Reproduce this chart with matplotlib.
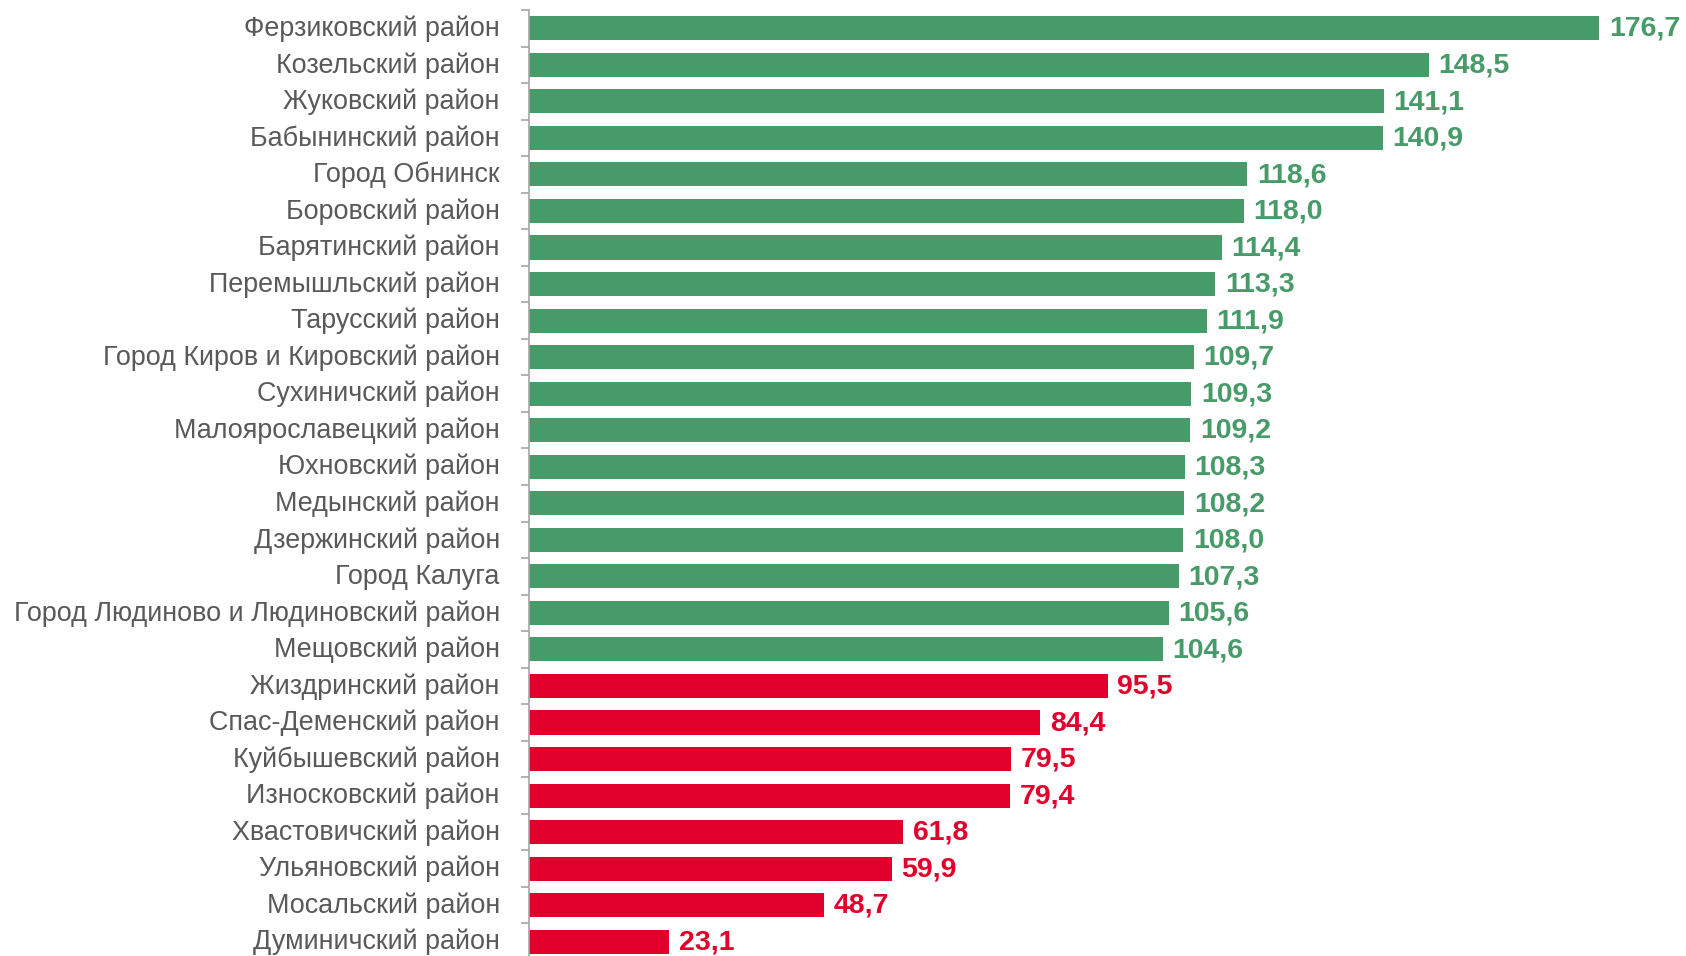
import matplotlib
matplotlib.use("Agg")
import matplotlib.pyplot as plt
import matplotlib.transforms as mtransforms
import numpy as np

plt.rcParams['font.family'] = ['Liberation Sans', 'DejaVu Sans']

districts = [
    'Ферзиковский район', 'Козельский район', 'Жуковский район',
    'Бабынинский район', 'Город Обнинск', 'Боровский район',
    'Барятинский район', 'Перемышльский район', 'Тарусский район',
    'Город Киров и Кировский район', 'Сухиничский район',
    'Малоярославецкий район', 'Юхновский район', 'Медынский район',
    'Дзержинский район', 'Город Калуга',
    'Город Людиново и Людиновский район', 'Мещовский район',
    'Жиздринский район', 'Спас-Деменский район', 'Куйбышевский район',
    'Износковский район', 'Хвастовичский район', 'Ульяновский район',
    'Мосальский район', 'Думиничский район',
]
values = [176.7, 148.5, 141.1, 140.9, 118.6, 118.0, 114.4, 113.3, 111.9,
          109.7, 109.3, 109.2, 108.3, 108.2, 108.0, 107.3, 105.6, 104.6,
          95.5, 84.4, 79.5, 79.4, 61.8, 59.9, 48.7, 23.1]

green = '#469b68'
red = '#e1002c'
colors = [green if v >= 100 else red for v in values]

fig = plt.figure(figsize=(16.86, 9.56), dpi=100)
ax = fig.add_axes([529 / 1686, -4 / 956, 1 - 529 / 1686, 950 / 956])

y = np.arange(len(districts))
ax.barh(y, values, height=0.66, color=colors)

for yi, v, c in zip(y, values, colors):
    ax.text(v + 1.6, yi + 0.02, f'{v:.1f}'.replace('.', ','), va='center',
            ha='left', color=c, fontsize=20.5, fontweight='bold')

ax.set_ylim(len(districts) - 0.5, -0.5)
ax.set_xlim(0, 191)
ax.set_yticks(y)
ax.set_yticklabels(districts, fontsize=19.4, color='#595959')
ax.tick_params(axis='y', which='major', length=0, pad=21)
ax.set_yticks(np.arange(len(districts) + 1) - 0.5, minor=True)
ax.tick_params(axis='y', which='minor', length=6, color='#a6a6a6', width=1.2)
ax.set_xticks([])

# labels sit a touch above bar centres in the original
shift = mtransforms.ScaledTranslation(0, 2.5 / 100, fig.dpi_scale_trans)
for lbl in ax.get_yticklabels():
    lbl.set_transform(lbl.get_transform() + shift)

for s in ['top', 'right', 'bottom']:
    ax.spines[s].set_visible(False)
ax.spines['left'].set_color('#a6a6a6')
ax.spines['left'].set_linewidth(1.2)

plt.savefig('out.png', dpi=100)
